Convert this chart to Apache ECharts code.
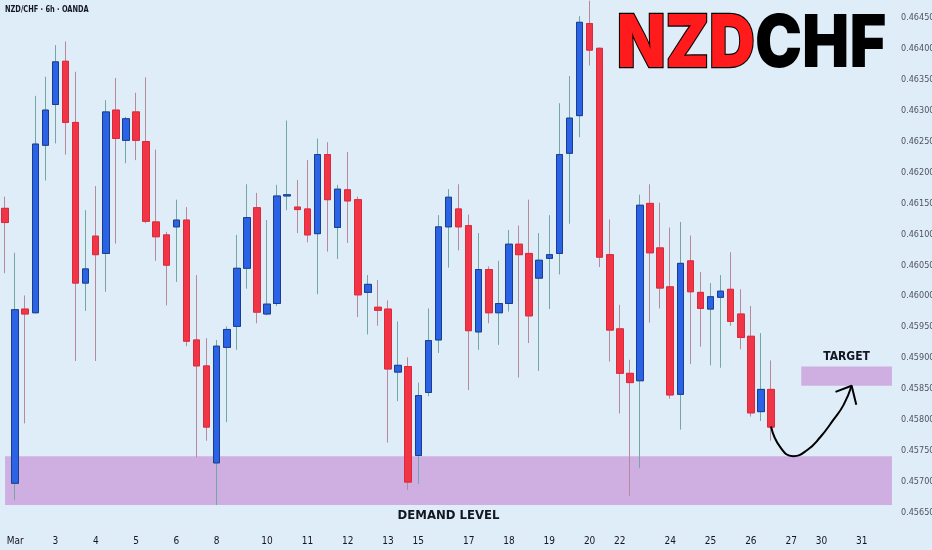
<!DOCTYPE html>
<html><head><meta charset="utf-8">
<script src="https://cdn.jsdelivr.net/npm/echarts@6/dist/echarts.min.js"></script>
<style>html,body{margin:0;padding:0;background:#dfedf8;}#c{width:932px;height:550px;}</style>
</head><body><div id="c"></div>
<script>
const opens  = [0.46142,0.45697,0.45979,0.45973,0.46244,0.46310,0.46380,0.46281,0.46021,0.46097,0.46069,0.46301,0.46252,0.46298,0.46250,0.46120,0.46099,0.46112,0.46123,0.45929,0.45887,0.45730,0.45917,0.45951,0.46045,0.46143,0.45971,0.45988,0.46162,0.46144,0.46141,0.46101,0.46229,0.46111,0.46172,0.46156,0.46006,0.45982,0.45979,0.45877,0.45886,0.45742,0.45844,0.45929,0.46112,0.46141,0.46114,0.45942,0.46043,0.45973,0.45988,0.46084,0.46069,0.46029,0.46061,0.46069,0.46231,0.46292,0.46441,0.46401,0.46067,0.45947,0.45875,0.45863,0.46150,0.46078,0.46015,0.45841,0.46057,0.46006,0.45979,0.45998,0.46011,0.45971,0.45935,0.45813,0.45849];
const closes = [0.46119,0.45978,0.45971,0.46246,0.46301,0.46379,0.46281,0.46021,0.46044,0.46067,0.46298,0.46255,0.46287,0.46252,0.46121,0.46096,0.46050,0.46123,0.45927,0.45887,0.45788,0.45919,0.45946,0.46045,0.46127,0.45974,0.45987,0.46162,0.46164,0.46140,0.46099,0.46229,0.46156,0.46173,0.46154,0.46002,0.46019,0.45977,0.45882,0.45888,0.45699,0.45839,0.45928,0.46112,0.46160,0.46112,0.45944,0.46043,0.45973,0.45988,0.46084,0.46067,0.45968,0.46058,0.46067,0.46229,0.46288,0.46443,0.46398,0.46063,0.45945,0.45875,0.45860,0.46147,0.46070,0.46013,0.45840,0.46053,0.46007,0.45980,0.45999,0.46008,0.45959,0.45933,0.45811,0.45849,0.45788];
const highs  = [0.46161,0.46070,0.46001,0.46324,0.46355,0.46406,0.46412,0.46363,0.46139,0.46178,0.46317,0.46353,0.46290,0.46329,0.46354,0.46237,0.46104,0.46156,0.46144,0.46034,0.45932,0.45929,0.45951,0.46099,0.46181,0.46167,0.46123,0.46180,0.46284,0.46188,0.46220,0.46255,0.46249,0.46180,0.46233,0.46161,0.46034,0.46026,0.45993,0.45959,0.45901,0.45860,0.45980,0.46131,0.46173,0.46181,0.46132,0.46102,0.46048,0.46057,0.46107,0.46114,0.46156,0.46102,0.46131,0.46312,0.46356,0.46453,0.46478,0.46402,0.46124,0.45986,0.45897,0.46164,0.46181,0.46151,0.46111,0.46120,0.46098,0.46039,0.46021,0.46034,0.46071,0.46011,0.45984,0.45940,0.45896];
const lows   = [0.46037,0.45670,0.45794,0.45972,0.46187,0.46247,0.46229,0.45895,0.45976,0.45895,0.46007,0.46085,0.46215,0.46220,0.46118,0.46057,0.45985,0.46023,0.45919,0.45739,0.45766,0.45662,0.45796,0.45913,0.46012,0.45956,0.45969,0.45984,0.46139,0.46102,0.46087,0.46003,0.46072,0.46060,0.46086,0.45966,0.45938,0.45952,0.45763,0.45830,0.45686,0.45696,0.45838,0.45908,0.46046,0.46074,0.45848,0.45913,0.45956,0.45921,0.45975,0.45868,0.45924,0.45879,0.45979,0.46035,0.46117,0.46257,0.46373,0.46047,0.45894,0.45810,0.45677,0.45722,0.45957,0.45980,0.45834,0.45784,0.45890,0.45918,0.45888,0.45884,0.45952,0.45914,0.45805,0.45798,0.45766];
const priceTicks = [0.4565,0.457,0.4575,0.458,0.4585,0.459,0.4595,0.46,0.4605,0.461,0.4615,0.462,0.4625,0.463,0.4635,0.464,0.4645];
const dayTickIndex  = [1,5,9,13,17,21,26,30,34,38,41,46,50,54,58,61,66,70,74,78,81,85];
const dayTickLabels = ['Mar','3','4','5','6','8','10','11','12','13','15','17','18','19','20','22','24','25','26','27','30','31'];
const slotCount = 89;
const priceRange = [0.456215, 0.464791];
const lastPrice = 0.45788;
const demandX = [0, 88];
const demandY = [0.45741, 0.45662];
const targetX = [79, 88];
const targetY = [0.45886, 0.45855];
const arrowPath = [[76,0.45789],[76.9,0.45756],[78.2,0.45741],[79.6,0.45751],[80.9,0.45772],[82.2,0.45800],[83.2,0.45824],[84.0,0.45855]];
const arrowHead = [[82.4,0.45845],[84.0,0.45855],[84.46,0.45824]];

const categories = Array.from({length: slotCount}, (_, i) => String(i));
const wickData = opens.map((o, i) => [o, closes[i], lows[i], highs[i]]);
const bodyData = opens.map((o, i) => [o, closes[i], Math.min(o, closes[i]), Math.max(o, closes[i])]);
const tickMap = {};
dayTickIndex.forEach((ix, k) => tickMap[ix] = dayTickLabels[k]);

const NARROW = '"Liberation Sans Narrow","Arial Narrow","DejaVu Sans Condensed",sans-serif';
const chart = echarts.init(document.getElementById('c'), null, {renderer: 'canvas'});
chart.setOption({
  animation: false,
  backgroundColor: '#dfedf8',
  grid: {left: 0, right: 35, top: 0, bottom: 20, containLabel: false, outerBoundsMode: 'none'},
  xAxis: [{
    type: 'category', data: categories, boundaryGap: true,
    axisLine: {show: false}, axisTick: {show: false}, splitLine: {show: false},
    axisLabel: {
      interval: (idx) => tickMap[idx] !== undefined,
      formatter: (v, idx) => tickMap[idx] || '',
      color: '#131722', fontSize: 10, fontFamily: NARROW, margin: 6, hideOverlap: false
    }
  }, {
    type: 'value', min: -0.5, max: slotCount - 0.5, show: false
  }],
  yAxis: {
    type: 'value', position: 'right', min: priceRange[0], max: priceRange[1],
    axisLine: {show: false}, axisTick: {show: false}, splitLine: {show: false},
    axisLabel: {customValues: priceTicks, formatter: (v) => v.toFixed(5), color: '#50535e', fontSize: 9, fontFamily: NARROW, margin: 4}
  },
  graphic: [
    {type: 'text', x: 5, y: 5, scaleX: 0.82, style: {text: 'NZD/CHF · 6h · OANDA', fontSize: 9, fontWeight: 'bold', fontFamily: NARROW, fill: '#131722'}},
    {type: 'text', x: 617, y: 9, scaleX: 0.83, scaleY: 0.95, style: {
      text: '{r|NZD}{k|CHF}',
      rich: {
        r: {fill: '#ff1b1b', stroke: '#000', lineWidth: 2.5, fontSize: 76, fontWeight: 900, fontFamily: 'Inter, Roboto, sans-serif'},
        k: {fill: '#000', fontSize: 76, fontWeight: 900, fontFamily: 'Inter, Roboto, sans-serif'}
      }
    }}
  ],
  series: [
    {
      type: 'line', xAxisIndex: 1, data: [], z: 1,
      markArea: {
        silent: true,
        itemStyle: {color: '#cfaee2'},
        data: [
          [{coord: [demandX[0], demandY[0]], label: {show: true, position: 'bottom', formatter: 'DEMAND LEVEL', color: '#131722', fontSize: 13, fontWeight: 'bold', fontFamily: NARROW, distance: 4}},
           {coord: [demandX[1], demandY[1]]}],
          [{coord: [targetX[0], targetY[0]], label: {show: true, position: 'top', formatter: 'TARGET', color: '#131722', fontSize: 12, fontWeight: 'bold', fontFamily: NARROW, distance: 4}},
           {coord: [targetX[1], targetY[1]]}]
        ]
      }
    },
    {
      type: 'candlestick', data: wickData, barWidth: 7, z: 2,
      itemStyle: {color: '#74a6a2', color0: '#b7899b', borderColor: '#74a6a2', borderColor0: '#b7899b', borderWidth: 1}
    },
    {
      type: 'candlestick', data: bodyData, barWidth: 7, z: 3,
      itemStyle: {color: '#2b63e6', color0: '#f03546', borderColor: '#1b3d8f', borderColor0: '#e0283a', borderWidth: 1},
      markLine: {
        silent: true, symbol: 'none', data: [{yAxis: lastPrice}],
        lineStyle: {opacity: 0},
        label: {position: 'end', formatter: lastPrice.toFixed(5), backgroundColor: '#f23645', color: '#fff', padding: [2, 3, 1, 3], fontSize: 9.5, fontFamily: NARROW, distance: 1}
      }
    },
    {
      type: 'line', xAxisIndex: 1, data: arrowPath, smooth: 0.5, symbol: 'none', z: 4,
      lineStyle: {color: '#000', width: 2}
    },
    {
      type: 'line', xAxisIndex: 1, data: arrowHead, symbol: 'none', z: 4,
      lineStyle: {color: '#000', width: 2}
    }
  ]
});
</script></body></html>
